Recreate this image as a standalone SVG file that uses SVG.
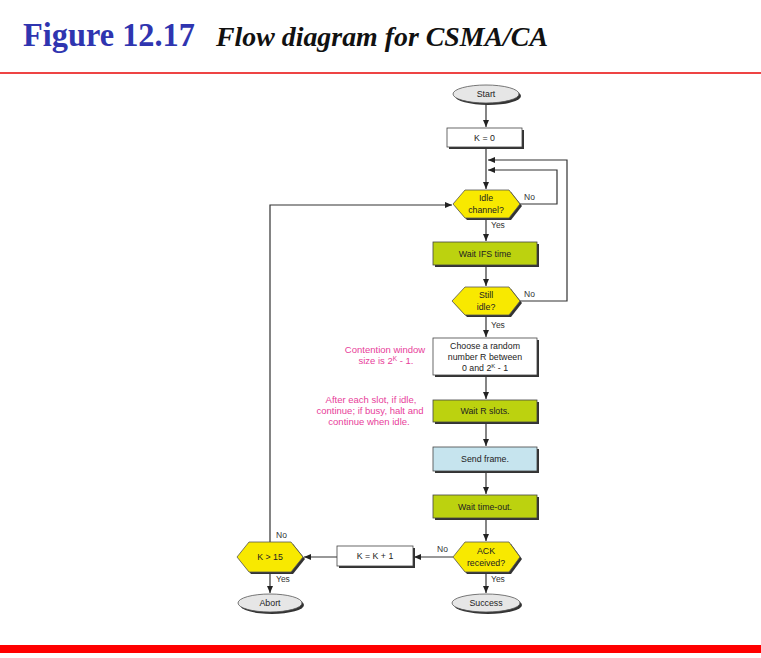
<svg xmlns="http://www.w3.org/2000/svg" width="761" height="658" viewBox="0 0 761 658">
<style>
.t{font-family:"Liberation Sans",Arial,sans-serif;font-size:8.8px;fill:#222;text-anchor:middle}
.lb{font-family:"Liberation Sans",Arial,sans-serif;font-size:8.5px;fill:#333}
.pk{font-family:"Liberation Sans",Arial,sans-serif;font-size:9.5px;fill:#e8409a;text-anchor:middle}
.box{stroke:#444;stroke-width:0.8}
.sh{fill:#333}
.ln{fill:none;stroke:#333;stroke-width:1.2}
.hex{fill:#f8e900;stroke:#555;stroke-width:0.8}
.ell{fill:#e6e6e6;stroke:#555;stroke-width:0.8}
</style>
<defs>
<marker id="ah" markerWidth="8" markerHeight="8" refX="7" refY="4" orient="auto" markerUnits="userSpaceOnUse">
<path d="M0,1 L7,4 L0,7 Z" fill="#222"/>
</marker>
</defs>
<rect width="761" height="658" fill="#fff"/>
<g id="title">
<text x="23" y="46" font-family="Liberation Serif,Times New Roman,serif" font-weight="bold" font-size="33" fill="#2f35b0" textLength="172" lengthAdjust="spacingAndGlyphs">Figure 12.17</text>
<text x="216" y="46" font-family="Liberation Serif,Times New Roman,serif" font-weight="bold" font-style="italic" font-size="27" fill="#111" textLength="332" lengthAdjust="spacingAndGlyphs">Flow diagram for CSMA/CA</text>
</g>
<rect x="0" y="72" width="761" height="2" fill="#ee4444"/>
<rect x="0" y="645" width="761" height="8" fill="#ff0000"/>

<g id="connectors">
<line class="ln" x1="486" y1="103" x2="486" y2="127" marker-end="url(#ah)"/>
<line class="ln" x1="486" y1="147" x2="486" y2="189" marker-end="url(#ah)"/>
<polyline class="ln" points="520,301 567,301 567,160 488,160" marker-end="url(#ah)"/>
<polyline class="ln" points="520,204 557,204 557,170 488,170" marker-end="url(#ah)"/>
<polyline class="ln" points="270,542 270,205 452,205" marker-end="url(#ah)"/>
<line class="ln" x1="486" y1="218" x2="486" y2="241" marker-end="url(#ah)"/>
<line class="ln" x1="486" y1="265" x2="486" y2="286" marker-end="url(#ah)"/>
<line class="ln" x1="486" y1="315" x2="486" y2="337" marker-end="url(#ah)"/>
<line class="ln" x1="486" y1="377" x2="486" y2="399" marker-end="url(#ah)"/>
<line class="ln" x1="486" y1="422" x2="486" y2="446" marker-end="url(#ah)"/>
<line class="ln" x1="486" y1="471" x2="486" y2="494" marker-end="url(#ah)"/>
<line class="ln" x1="486" y1="518" x2="486" y2="541" marker-end="url(#ah)"/>
<line class="ln" x1="453" y1="557" x2="414" y2="557" marker-end="url(#ah)"/>
<line class="ln" x1="337" y1="557" x2="304" y2="557" marker-end="url(#ah)"/>
<line class="ln" x1="270" y1="572" x2="270" y2="593" marker-end="url(#ah)"/>
<line class="ln" x1="486" y1="572" x2="486" y2="593" marker-end="url(#ah)"/>
<text class="lb" x="524" y="200">No</text>
<text class="lb" x="491" y="228">Yes</text>
<text class="lb" x="524" y="297">No</text>
<text class="lb" x="491" y="328">Yes</text>
<text class="lb" x="437" y="552">No</text>
<text class="lb" x="491" y="582">Yes</text>
<text class="lb" x="276" y="538">No</text>
<text class="lb" x="276" y="582">Yes</text>
</g>

<g id="start">
<ellipse class="sh" cx="488" cy="96" rx="33" ry="9"/>
<ellipse class="ell" cx="486" cy="94" rx="33" ry="9"/>
<text class="t" x="486" y="97">Start</text>
</g>
<g id="k0">
<rect class="sh" x="449" y="130" width="75" height="19"/>
<rect class="box" x="447" y="128" width="75" height="19" fill="#fff"/>
<text class="t" x="484.5" y="141">K = 0</text>
</g>
<g id="idle">
<polygon class="sh" points="455,206 467,192 511,192 522,206 511,220 467,220"/>
<polygon class="hex" points="453,204 465,190 509,190 520,204 509,218 465,218"/>
<text class="t" x="486" y="201">Idle</text>
<text class="t" x="486" y="213">channel?</text>
</g>
<g id="waitifs">
<rect class="sh" x="435" y="244" width="104" height="23"/>
<rect class="box" x="433" y="242" width="104" height="23" fill="#bcd20f"/>
<text class="t" x="485" y="256.5">Wait IFS time</text>
</g>
<g id="stillidle">
<polygon class="sh" points="454,303 467,289 511,289 522,303 511,317 467,317"/>
<polygon class="hex" points="452,301 465,287 509,287 520,301 509,315 465,315"/>
<text class="t" x="486" y="298">Still</text>
<text class="t" x="486" y="310">idle?</text>
</g>
<g id="choose">
<rect class="sh" x="435" y="340" width="104" height="37"/>
<rect class="box" x="433" y="338" width="104" height="37" fill="#fff"/>
<text class="t" x="485" y="349">Choose a random</text>
<text class="t" x="485" y="360">number R between</text>
<text class="t" x="485" y="371">0 and 2<tspan font-size="6" dy="-3">K</tspan><tspan dy="3"> - 1</tspan></text>
</g>
<g id="note1">
<text class="pk" x="385" y="353">Contention window</text>
<text class="pk" x="386" y="364">size is 2<tspan font-size="6.5" dy="-3">K</tspan><tspan dy="3"> - 1.</tspan></text>
</g>
<g id="waitr">
<rect class="sh" x="435" y="402" width="104" height="22"/>
<rect class="box" x="433" y="400" width="104" height="22" fill="#bcd20f"/>
<text class="t" x="485" y="414">Wait R slots.</text>
</g>
<g id="note2">
<text class="pk" x="371" y="403">After each slot, if idle,</text>
<text class="pk" x="370" y="414">continue; if busy, halt and</text>
<text class="pk" x="369" y="425">continue when idle.</text>
</g>
<g id="send">
<rect class="sh" x="435" y="449" width="104" height="24"/>
<rect class="box" x="433" y="447" width="104" height="24" fill="#c6e4ee"/>
<text class="t" x="485" y="462">Send frame.</text>
</g>
<g id="waitto">
<rect class="sh" x="435" y="497" width="104" height="23"/>
<rect class="box" x="433" y="495" width="104" height="23" fill="#bcd20f"/>
<text class="t" x="485" y="509.5">Wait time-out.</text>
</g>
<g id="ack">
<polygon class="sh" points="455,559 467,544 511,544 522,559 511,574 467,574"/>
<polygon class="hex" points="453,557 465,542 509,542 520,557 509,572 465,572"/>
<text class="t" x="486" y="554">ACK</text>
<text class="t" x="486" y="566">received?</text>
</g>
<g id="kinc">
<rect class="sh" x="339" y="548" width="76" height="20"/>
<rect class="box" x="337" y="546" width="76" height="20" fill="#fff"/>
<text class="t" x="375" y="559">K = K + 1</text>
</g>
<g id="k15">
<polygon class="sh" points="239,559 251,544 293,544 305,559 293,574 251,574"/>
<polygon class="hex" points="237,557 249,542 291,542 303,557 291,572 249,572"/>
<text class="t" x="270" y="560">K &gt; 15</text>
</g>
<g id="abort">
<ellipse class="sh" cx="272" cy="605" rx="32" ry="9"/>
<ellipse class="ell" cx="270" cy="603" rx="32" ry="9"/>
<text class="t" x="270" y="606">Abort</text>
</g>
<g id="success">
<ellipse class="sh" cx="488" cy="605" rx="34" ry="9"/>
<ellipse class="ell" cx="486" cy="603" rx="34" ry="9"/>
<text class="t" x="486" y="606">Success</text>
</g>
</svg>
